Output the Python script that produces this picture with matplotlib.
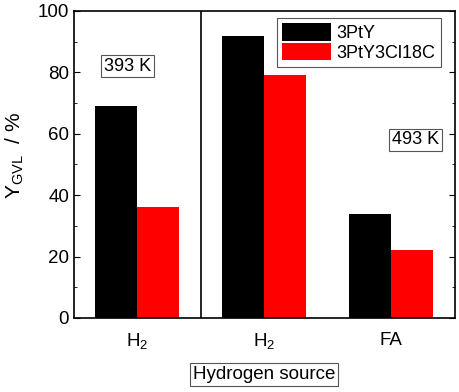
import numpy as np
import matplotlib.pyplot as plt
from matplotlib.ticker import MultipleLocator

plt.rcParams['font.family'] = ['Liberation Sans', 'DejaVu Sans']

# Data
sources = ['H$_\\mathregular{2}$', 'H$_\\mathregular{2}$', 'FA']
pos = np.array([1, 2, 3])
ypty = [69, 92, 34]
ypty_cl = [36, 79, 22]
width = 0.33

fig = plt.figure(figsize=(4.59, 3.92), dpi=100)
ax = fig.add_axes([0.161, 0.189, 0.830, 0.783])

ax.bar(pos - width / 2, ypty, width, color='black', label='3PtY')
ax.bar(pos + width / 2, ypty_cl, width, color='red', label='3PtY3Cl18C')

# separator between temperatures
ax.axvline(1.5, color='black', lw=1.2)

ax.set_xlim(0.5, 3.5)
ax.set_ylim(0, 100)
ax.set_xticks(pos)
ax.set_xticklabels(sources, fontsize=13.5)
ax.yaxis.set_major_locator(MultipleLocator(20))
ax.yaxis.set_minor_locator(MultipleLocator(10))
ax.tick_params(axis='y', which='both', direction='in', right=True, labelsize=13.5)
ax.tick_params(axis='y', which='major', length=4)
ax.tick_params(axis='y', which='minor', length=2.5)
ax.tick_params(axis='x', length=0, pad=10)
for s in ax.spines.values():
    s.set_linewidth(1.2)

ax.set_ylabel('Y$_{\\mathregular{GVL}}$  / %', fontsize=15)
ax.yaxis.set_label_coords(-0.125, 0.53)
ax.set_xlabel('Hydrogen source', fontsize=13.5, labelpad=10,
              bbox=dict(facecolor='white', edgecolor='#555555', lw=0.8, pad=2))

box = dict(facecolor='white', edgecolor='#555555', lw=0.8, pad=2)
ax.text(0.92, 82, '393 K', fontsize=13, ha='center', va='center', bbox=box)
ax.text(3.19, 58, '493 K', fontsize=13, ha='center', va='center', bbox=box)

leg = ax.legend(loc='upper right', bbox_to_anchor=(0.963, 0.977), borderaxespad=0,
                fontsize=13, handlelength=2.7, handleheight=1.1, handletextpad=0.3,
                labelspacing=0.05, borderpad=0.3, fancybox=False,
                edgecolor='#555555', framealpha=1)
leg.get_frame().set_linewidth(0.8)

plt.savefig('out.png')
